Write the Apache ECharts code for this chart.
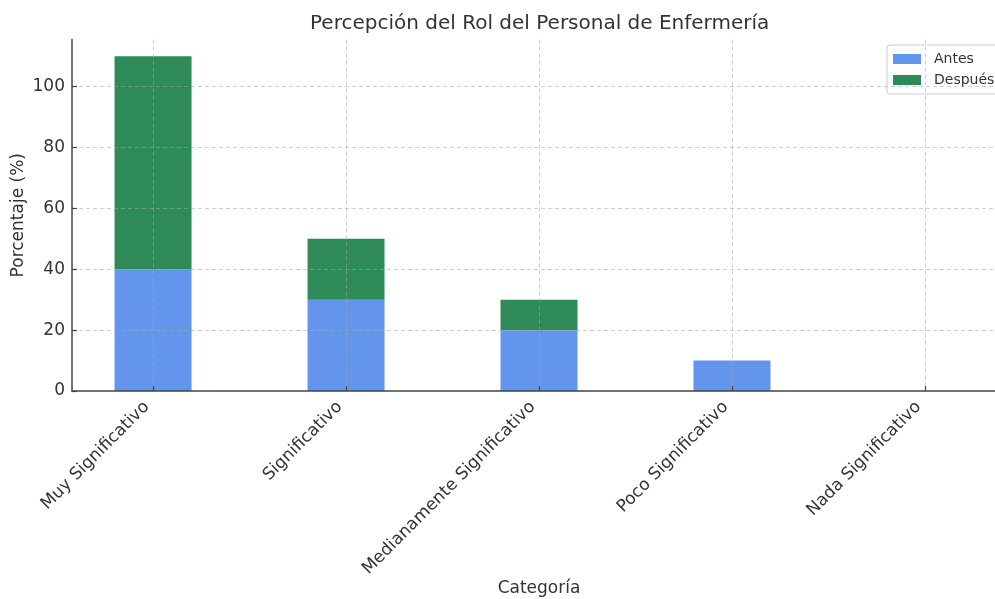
<!DOCTYPE html>
<html><head><meta charset="utf-8">
<script src="https://cdn.jsdelivr.net/npm/echarts@6/dist/echarts.min.js"></script>
<style>html,body{margin:0;padding:0;background:#fff}#c{width:995px;height:599px}</style>
</head><body><div id="c"></div>
<script>
const categories = ["Muy Significativo", "Significativo", "Medianamente Significativo", "Poco Significativo", "Nada Significativo"];
const antes = [40, 30, 20, 10, 0];
const despues = [70, 20, 10, 0, 0];
const yTicks = [0, 20, 40, 60, 80, 100];

const chart = echarts.init(document.getElementById('c'), null, {renderer: 'canvas'});
const font = 'DejaVu Sans';
// value first, category position second (so the value dimension is the stacked one)
const toPairs = arr => arr.map((v, i) => [v, i]);
const gridLine = {color: 'rgba(170,170,170,0.55)', type: [4, 3], width: 1};
chart.setOption({
  animation: false,
  backgroundColor: '#fff',
  title: {
    text: 'Percepción del Rol del Personal de Enfermería',
    left: 310, top: 14, padding: 0,
    textStyle: {fontFamily: font, fontSize: 20, fontWeight: 'normal', color: '#333'}
  },
  legend: {
    orient: 'vertical', left: 887, top: 45,
    padding: [7, 8, 7, 6], itemGap: 7, itemWidth: 28, itemHeight: 10,
    borderColor: '#ccc', borderWidth: 1, borderRadius: 3,
    backgroundColor: 'rgba(255,255,255,0.8)',
    icon: 'rect',
    textStyle: {fontFamily: font, fontSize: 14, color: '#333', padding: [0, 0, 0, 8]},
    data: ['Antes', 'Después']
  },
  grid: {left: 72, right: -11, top: 39.5, bottom: 208, containLabel: false, outerBoundsMode: 'none'},
  xAxis: {
    type: 'value', min: -0.42, max: 4.42, z: 5,
    name: 'Categoría', nameLocation: 'middle', nameGap: 189, nameMoveOverlap: false,
    nameTextStyle: {fontFamily: font, fontSize: 17, color: '#333'},
    axisLine: {show: true, onZero: false, lineStyle: {color: '#444', width: 1.5}},
    axisTick: {show: true, inside: true, length: 5, lineStyle: {color: '#444', width: 1.2}},
    axisLabel: {
      rotate: 45, margin: 7, padding: [0, 9, 0, 0], fontFamily: font, fontSize: 17, color: '#333',
      showMinLabel: false, showMaxLabel: false,
      formatter: v => (Number.isInteger(v) && categories[v] !== undefined) ? categories[v] : ''
    },
    splitLine: {show: true, showMinLine: false, showMaxLine: false, lineStyle: gridLine}
  },
  yAxis: {
    type: 'value', min: 0, max: 115.5, interval: 20, z: 5,
    name: 'Porcentaje (%)', nameLocation: 'middle', nameGap: 45, nameRotate: 90, nameMoveOverlap: false,
    nameTextStyle: {fontFamily: font, fontSize: 17, color: '#333'},
    axisLine: {show: true, onZero: false, lineStyle: {color: '#444', width: 1.5}},
    axisTick: {show: true, inside: true, length: 5, lineStyle: {color: '#444', width: 1.2}},
    axisLabel: {
      margin: 7, fontFamily: font, fontSize: 17, color: '#333', showMaxLabel: false,
      formatter: v => yTicks.includes(v) ? String(v) : ''
    },
    splitLine: {show: true, showMinLine: false, showMaxLine: false, lineStyle: gridLine}
  },
  series: [
    {name: 'Antes', type: 'bar', stack: 'total', barWidth: 77, data: toPairs(antes),
     encode: {x: 1, y: 0}, itemStyle: {color: '#6495ED'}, z: 2},
    {name: 'Después', type: 'bar', stack: 'total', barWidth: 77, data: toPairs(despues),
     encode: {x: 1, y: 0}, itemStyle: {color: '#2E8B57'}, z: 2}
  ]
});
</script></body></html>
